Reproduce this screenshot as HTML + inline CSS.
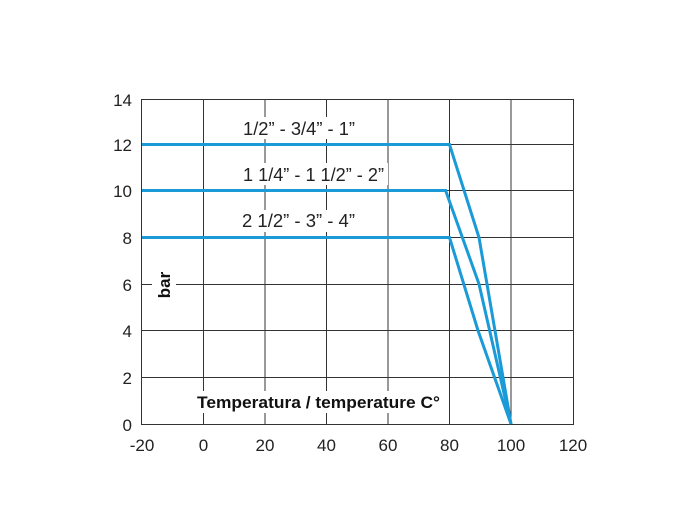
<!DOCTYPE html>
<html><head><style>body{margin:0;background:#fff}</style></head><body>
<svg width="700" height="520" xmlns="http://www.w3.org/2000/svg" font-family="Liberation Sans, sans-serif">
<rect width="700" height="520" fill="#fff"/>
<g stroke="#333" stroke-width="1" fill="none">
<rect x="141.5" y="99.5" width="432" height="325"/>
<line x1="203.5" y1="100" x2="203.5" y2="424"/>
<line x1="265" y1="100" x2="265" y2="424"/>
<line x1="326.5" y1="100" x2="326.5" y2="424"/>
<line x1="388" y1="100" x2="388" y2="424"/>
<line x1="449.5" y1="100" x2="449.5" y2="424"/>
<line x1="511" y1="100" x2="511" y2="424"/>
<line x1="142" y1="144.5" x2="573" y2="144.5"/>
<line x1="142" y1="190.5" x2="573" y2="190.5"/>
<line x1="142" y1="237.5" x2="573" y2="237.5"/>
<line x1="142" y1="284.5" x2="573" y2="284.5"/>
<line x1="142" y1="330.5" x2="573" y2="330.5"/>
<line x1="142" y1="377.5" x2="573" y2="377.5"/>
</g>
<g fill="#fff">
<rect x="152" y="270" width="24" height="30"/>
<rect x="238" y="117" width="122" height="22"/>
<rect x="238" y="163" width="150" height="22"/>
<rect x="238" y="210" width="122" height="22"/>
<rect x="194" y="391" width="250" height="22"/>
</g>
<g stroke="#1a9ad6" stroke-width="3" fill="none" stroke-linejoin="miter">
<polyline points="142,144.5 449.5,144.5 479,237.5 511,424"/>
<polyline points="142,190.5 445.6,190.5 479,284 511,424"/>
<polyline points="142,237.5 449.5,237.5 478,330.5 511,424"/>
</g>
<g font-size="17" fill="#222" text-anchor="end">
<text x="132" y="106">14</text><text x="132" y="151">12</text><text x="132" y="197">10</text>
<text x="132" y="244">8</text><text x="132" y="291">6</text><text x="132" y="337">4</text>
<text x="132" y="384">2</text><text x="132" y="431">0</text>
</g>
<g font-size="17" fill="#222" text-anchor="middle">
<text x="142" y="451">-20</text><text x="203.5" y="451">0</text><text x="265" y="451">20</text>
<text x="326.5" y="451">40</text><text x="388" y="451">60</text><text x="449.5" y="451">80</text>
<text x="511" y="451">100</text><text x="573" y="451">120</text>
</g>
<g font-size="18" fill="#222">
<text x="243" y="135" textLength="112" lengthAdjust="spacingAndGlyphs">1/2” - 3/4” - 1”</text>
<text x="243" y="181" textLength="141" lengthAdjust="spacingAndGlyphs">1 1/4” - 1 1/2” - 2”</text>
<text x="242" y="227" textLength="113" lengthAdjust="spacingAndGlyphs">2 1/2” - 3” - 4”</text>
</g>
<text x="197" y="408" font-size="17" font-weight="bold" fill="#111" textLength="243" lengthAdjust="spacingAndGlyphs">Temperatura / temperature C°</text>
<text transform="translate(170,285) rotate(-90)" font-size="17" font-weight="bold" fill="#111" text-anchor="middle">bar</text>
</svg>
</body></html>
